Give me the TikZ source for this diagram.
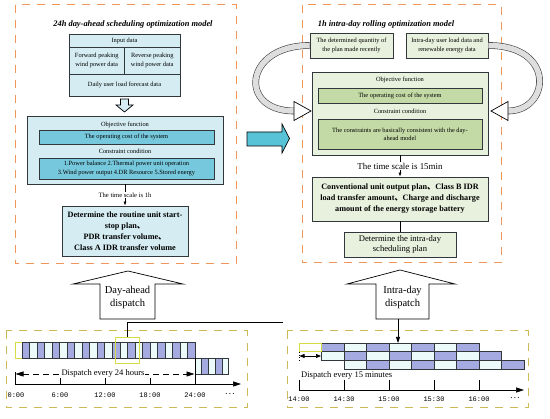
\documentclass[tikz,border=0pt]{standalone}
\usepackage{fontspec}
\setmainfont{Liberation Serif}
\setmonofont{Liberation Mono}
\newfontfamily\cjkfont{Noto Sans CJK SC}
\usetikzlibrary{positioning,arrows.meta,calc}
\definecolor{dashOrange}{RGB}{240,150,90}
\definecolor{dashOlive}{RGB}{205,185,85}
\definecolor{cyanPale}{RGB}{212,236,242}
\definecolor{cyanMid}{RGB}{118,200,220}
\definecolor{cyanArrow}{RGB}{88,195,215}
\definecolor{greenPale}{RGB}{232,241,222}
\definecolor{greenMid}{RGB}{196,218,166}
\definecolor{cellBlue}{RGB}{165,170,225}
\definecolor{cellLight}{RGB}{236,250,250}
\definecolor{markYellow}{RGB}{215,220,70}
\definecolor{edgeDark}{RGB}{50,55,60}
\newcommand{\enumcomma}{{\cjkfont 、}}

\begin{document}
\begin{tikzpicture}[
        x=1pt,
        y=-1pt,
        >={Latex[length=4pt,width=3pt]},
        orangebox/.style={draw=dashOrange, line width=1pt, dash pattern=on 8pt off 7pt},
        olivebox/.style={draw=dashOlive, line width=1pt, dash pattern=on 8pt off 7pt},
        tiny/.style={font=\fontsize{6.4}{8.2}\selectfont, align=center},
        heading/.style={font=\fontsize{8.4}{10}\selectfont\bfseries\itshape},
        cbox/.style={draw=edgeDark, line width=0.8pt, fill=cyanPale, inner sep=0pt, tiny},
        gbox/.style={draw=edgeDark, line width=0.8pt, fill=greenPale, inner sep=0pt, tiny},
        result/.style={font=\fontsize{8.2}{11}\selectfont\bfseries, align=center},
        scalelbl/.style={fill=white, inner sep=1pt},
        hollow/.style={draw=black, line width=0.7pt, fill=white},
        loopband/.style={black!75, line width=0.6pt, double=black!13, double distance=5.5pt},
        cell/.style={draw=edgeDark, line width=0.5pt},
        tick/.style={font=\fontsize{7}{8}\selectfont\ttfamily},
        dispatch/.style={font=\fontsize{8.5}{10}\selectfont},
        bigtip/.style={-{Triangle[length=8pt,width=5pt]}}
    ]
        \useasboundingbox (0,0) rectangle (550,419);

        % Day-ahead model (left panel)
        \draw[orangebox] (15,5) rectangle (236,264);
        \node[heading] (titleL) at (133,24) {24h day-ahead scheduling optimization model};

        \node[cbox, minimum width=111, minimum height=13] (inHead) at (124.5,40.5) {Input data};
        \node[cbox, minimum width=55.5, minimum height=27] (inFwd) at (96.75,60.5) {Forward peaking\\wind power data};
        \node[cbox, minimum width=55.5, minimum height=27] (inRev) at (152.25,60.5) {Reverse peaking\\wind power data};
        \node[cbox, minimum width=111, minimum height=22] (inLoad) at (124.5,85) {Daily user load forecast data};
        \draw[hollow, fill=cyanPale] (120.5,99) -- (128.5,99) -- (128.5,105) -- (133,105)
            -- (124.5,112) -- (116,105) -- (120.5,105) -- cycle;

        \node[cbox, minimum width=196, minimum height=68] (objL) at (125,150) {};
        \node[tiny] (objLtxt) at (125,124.5) {Objective function};
        \node[cbox, fill=cyanMid, minimum width=175, minimum height=14] (costL) at (126.5,137) {The operating cost of the system};
        \node[tiny] (conLtxt) at (125,151.5) {Constraint condition};
        \node[cbox, fill=cyanMid, minimum width=175, minimum height=21] (consL) at (126.5,168.5)
            {1.Power balance 2.Thermal power unit operation\\3.Wind power output 4.DR Resource 5.Stored energy};

        \node[cbox, minimum width=126, minimum height=50] (resL) at (125,231) {};
        \node[result] at (resL.center) {Determine the routine unit start-\\stop plan\enumcomma\\PDR transfer volume\enumcomma\\Class A IDR transfer volume};
        \draw[->, line width=0.6pt] (objL.south) -- (resL.north)
            node[midway, scalelbl, font=\fontsize{6.6}{8}\selectfont] {The time scale is 1h};

        % Link between the two models
        \draw[draw=black, line width=0.7pt, fill=cyanArrow] (247,132) -- (282,132) -- (282,124)
            -- (289.5,138.5) -- (282,153) -- (282,146) -- (247,146) -- cycle;

        % Intra-day model (right panel)
        \draw[orangebox] (302,5) rectangle (501,263);
        \node[heading] (titleR) at (386,24) {1h intra-day rolling optimization model};

        \node[gbox, minimum width=83, minimum height=25] (recent) at (351.5,45.5) {The determined quantity of\\the plan made recently};
        \node[gbox, minimum width=82, minimum height=25] (intra) at (447,45.5) {Intra-day user load data and\\renewable energy data};

        \node[gbox, minimum width=176, minimum height=83] (optR) at (400,113.5) {};
        \node[tiny] (objRtxt) at (400,80) {Objective function};
        \node[gbox, fill=greenMid, minimum width=164, minimum height=15] (costR) at (400,95.5) {The operating cost of the system};
        \node[tiny] (conRtxt) at (400,111.5) {Constraint condition};
        \node[gbox, fill=greenMid, minimum width=164, minimum height=30] (consR) at (400,134)
            {The constraints are basically consistent with the day-\\ahead model};

        % Feedback arrows
        \coordinate (backL) at (294,111);
        \coordinate (backR) at (508,111);
        \draw[loopband] (recent.west) .. controls +(-66,0) and +(-56,0) .. (backL);
        \draw[hollow] (294,101.5) -- (311,111) -- (294,120.5) -- cycle;
        \draw[loopband] (intra.east) .. controls +(68,0) and +(42,0) .. (backR);
        \draw[hollow] (508,101.5) -- (491,111) -- (508,120.5) -- cycle;

        \node[gbox, minimum width=176, minimum height=44] (resR) at (400,199) {};
        \node[result] at (resR.center) {Conventional unit output plan\enumcomma Class B IDR\\load transfer amount\enumcomma Charge and discharge\\amount of the energy storage battery};
        \draw[->, line width=0.6pt] (optR.south) -- (resR.north)
            node[midway, scalelbl, font=\fontsize{8.9}{10}\selectfont] {The time scale is 15min};
        \node[gbox, minimum width=112, minimum height=25, font=\fontsize{8.6}{10.5}\selectfont] (finR) at (400,244.5)
            {Determine the intra-day\\scheduling plan};
        \draw[line width=0.6pt] (resR.south) -- (finR.north);

        % Dispatch arrows
        \draw[hollow] (100,319) -- (100,284) -- (73,284) -- (128,271) -- (183,284) -- (155,284) -- (155,319) -- cycle;
        \node[align=center, font=\fontsize{10.5}{13}\selectfont] (daTxt) at (127.5,297) {Day-ahead\\dispatch};
        \draw[hollow] (376,319) -- (376,284) -- (347,284) -- (400,270) -- (455,284) -- (429,284) -- (429,319) -- cycle;
        \node[align=center, font=\fontsize{10.5}{13}\selectfont] (idTxt) at (402.5,297) {Intra-day\\dispatch};

        % Day-ahead time line
        \draw[olivebox] (6,331) rectangle (247,408);
        \draw[cell, draw=markYellow, line width=0.8pt, fill=white] (15,342) rectangle (22,358);
        \foreach \k in {0,...,22}{
            \ifodd\k \def\cc{cellLight}\else\def\cc{cellBlue}\fi
            \draw[cell, fill=\cc] ({22+7.52*\k},342) rectangle ++(7.52,16);
        }
        \foreach \k in {0,...,4}{
            \ifodd\k \def\cc{cellBlue}\else\def\cc{cellLight}\fi
            \draw[cell, fill=\cc] ({195+6.7*\k},358) rectangle ++(6.7,16);
        }
        \node[draw=markYellow, line width=0.8pt, minimum width=24, minimum height=26, inner sep=0pt] (hl) at (127,350) {};
        \coordinate (hlEnd) at (283,322);
        \draw[line width=0.7pt] (hl.north) |- (hlEnd);

        \draw[line width=0.6pt] (15,372) -- (15,384);
        \draw[line width=0.6pt] (195,358) -- (195,384);
        \foreach \x in {60,105,150} \draw[line width=0.6pt] (\x,378) -- (\x,384);
        \draw[bigtip, line width=0.6pt] (15,384) -- (241,384);
        \draw[{Triangle[length=8pt,width=5pt]}-{Triangle[length=8pt,width=5pt]}, line width=0.6pt,
            dash pattern=on 6pt off 4pt] (15.5,374) -- (194.5,374);
        \node[dispatch, scalelbl, inner sep=0.5pt] (every24) at (103,373) {Dispatch every 24 hours};
        \foreach \x/\t in {16/0:00,60/6:00,105/12:00,150/18:00,195/24:00}
            \node[tick] at (\x,395) {\t};
        \node[font=\bfseries\fontsize{7}{8}\selectfont] at (230,394) {.\ .\ .};

        % Intra-day time line
        \draw[olivebox] (287,331) rectangle (528,408);
        \coordinate (idFoot) at (398,319);
        \coordinate (cellTop) at (398,343);
        \draw[-{Triangle[length=6pt,width=4pt]}, line width=0.7pt] (idFoot) -- (cellTop);
        \foreach \r in {0,1,2}{
            \foreach \k in {0,...,7}{
                \ifodd\k \def\cc{cellBlue}\else\def\cc{cellLight}\fi
                \draw[cell, fill=\cc] ({299+22.5*(\r+\k)},{343+8.7*\r}) rectangle ++(22.5,8.7);
            }
        }
        \draw[cell, draw=markYellow, line width=0.8pt, fill=white] (299,343) rectangle ++(22.5,8.7);
        \draw[{Triangle[length=5pt,width=4pt]}-{Triangle[length=5pt,width=4pt]}, line width=0.7pt] (299.5,356) -- (321,356);
        \draw[dotted, line width=0.6pt] (299,352) -- (299,361);
        \node[dispatch, anchor=west, inner sep=0pt] (every15) at (301,375) {Dispatch every 15 minutes};
        \foreach \x in {299,344,389,434,479} \draw[line width=0.6pt] (\x,380) -- (\x,390);
        \draw[bigtip, line width=0.6pt] (299,390) -- (524,390);
        \foreach \x/\t in {299/14:00,344/14:30,389/15:00,434/15:30,479/16:00}
            \node[tick] at (\x,399) {\t};
        \node[font=\bfseries\fontsize{7}{8}\selectfont] at (515,398) {.\ .\ .};
    \end{tikzpicture}
\end{document}
